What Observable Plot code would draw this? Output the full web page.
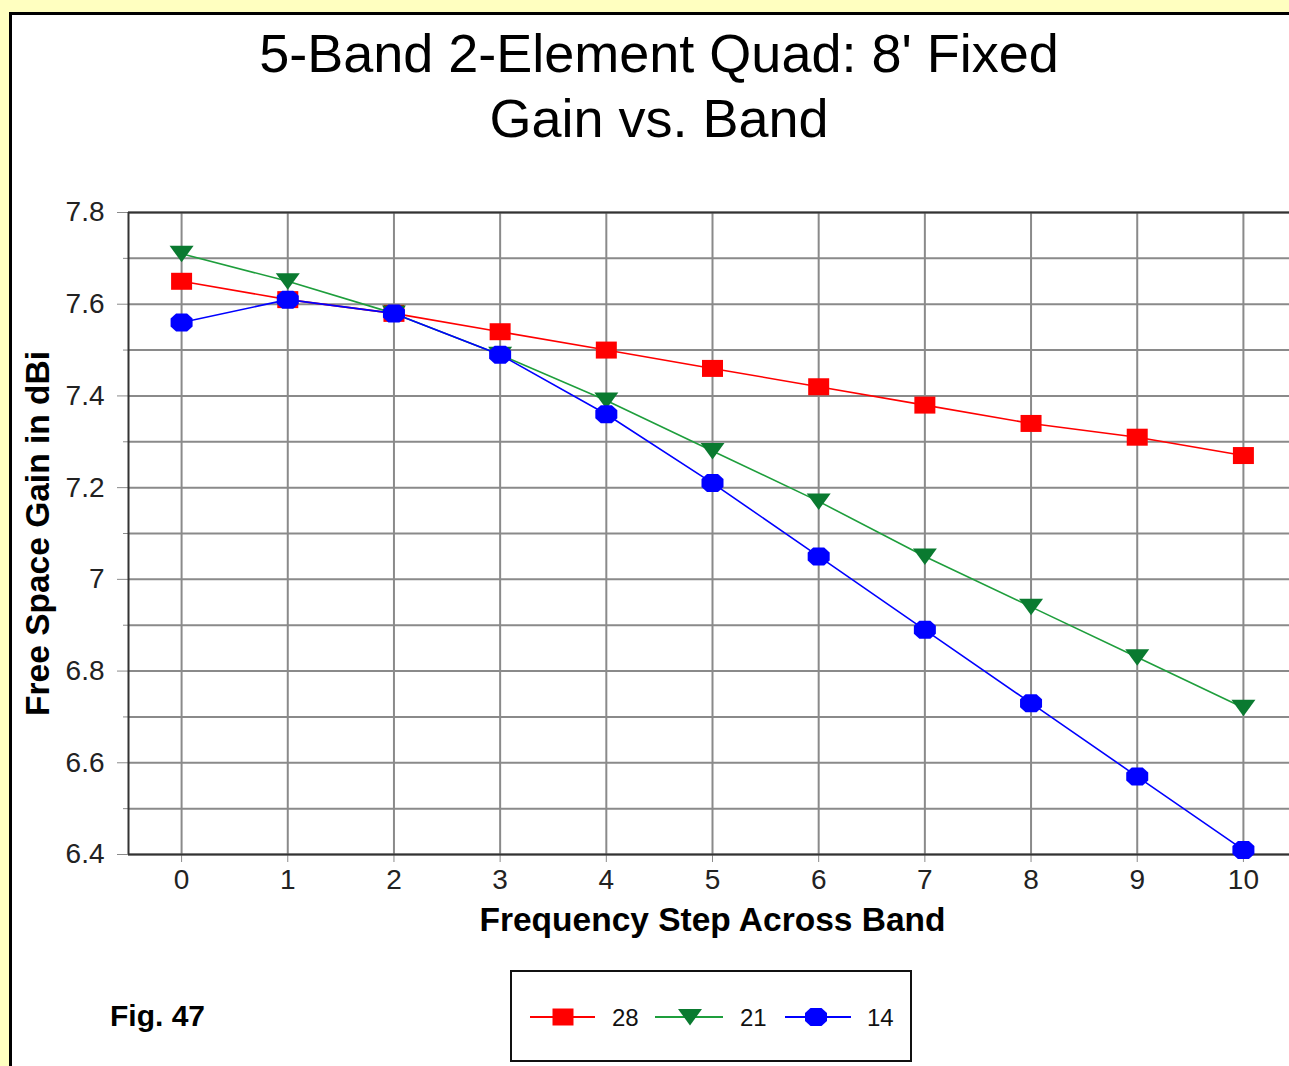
<!DOCTYPE html>
<html>
<head>
<meta charset="utf-8">
<script src="https://cdn.jsdelivr.net/npm/d3@7"></script>
<script src="https://cdn.jsdelivr.net/npm/@observablehq/plot@0.6"></script>
<style>
html, body { margin: 0; padding: 0; width: 1289px; height: 1066px; overflow: hidden; background: #FFFFC0; font-family: "Liberation Sans", Arial, sans-serif; }
#frame { position: absolute; left: 9px; top: 12px; width: 1300px; height: 1070px; background: #fff; border-left: 3px solid #000; border-top: 3px solid #000; }
#title { position: absolute; left: 0; top: 21px; width: 1318px; text-align: center; font-size: 54px; line-height: 65px; color: #000; }
#chart { position: absolute; left: 0; top: 0; width: 1289px; height: 1066px; overflow: hidden; }
#chart svg { max-width: none !important; }
#fig { position: absolute; left: 110px; top: 1001px; font-size: 30px; line-height: 30px; font-weight: bold; color: #000; }
#legend { position: absolute; left: 510px; top: 970px; width: 398px; height: 88px; border: 2px solid #111; background: #fff; }
</style>
</head>
<body>
<div id="frame"></div>
<div id="title">5-Band 2-Element Quad: 8' Fixed<br>Gain vs. Band</div>
<div id="chart"></div>
<div id="fig">Fig. 47</div>
<div id="legend"></div>
<script>
// ---- data ----
const steps = [0, 1, 2, 3, 4, 5, 6, 7, 8, 9, 10];
const gain28 = [7.65, 7.61, 7.58, 7.54, 7.50, 7.46, 7.42, 7.38, 7.34, 7.31, 7.27];
const gain21 = [7.71, 7.65, 7.58, 7.49, 7.39, 7.28, 7.17, 7.05, 6.94, 6.83, 6.72];
const gain14 = [7.56, 7.61, 7.58, 7.49, 7.36, 7.21, 7.05, 6.89, 6.73, 6.57, 6.41];
const seriesNames = ["28", "21", "14"];
const yLabelTicks = [6.4, 6.6, 6.8, 7.0, 7.2, 7.4, 7.6, 7.8];
const yMinorTicks = [6.5, 6.7, 6.9, 7.1, 7.3, 7.5, 7.7];
const xTicks = [0, 1, 2, 3, 4, 5, 6, 7, 8, 9, 10];
const xLabel = "Frequency Step Across Band";
const yLabel = "Free Space Gain in dBi";

// ---- styles ----
const lineColors = {"28": "#FF0000", "21": "#1E9E3C", "14": "#0000FF"};
const markColors = {"28": "#FF0000", "21": "#0A7A30", "14": "#0000FF"};

// custom symbols (r = 10 -> size = PI*100)
const rOf = size => Math.sqrt(size / Math.PI);
const symSquare = {draw(ctx, size) { const r = rOf(size); const w = r * 1.05, h = r * 0.85; ctx.rect(-w, -h, 2 * w, 2 * h); }};
const symTriDown = {draw(ctx, size) { const r = rOf(size); ctx.moveTo(-1.2 * r, -0.8 * r); ctx.lineTo(1.2 * r, -0.8 * r); ctx.lineTo(0, 0.85 * r); ctx.closePath(); }};
const symOct = {draw(ctx, size) { const r = rOf(size); const a = 1.1 * r, b = 0.55 * r, c = 0.9 * r, d = 0.4 * r;
  ctx.moveTo(-b, -c); ctx.lineTo(b, -c); ctx.lineTo(a, -d); ctx.lineTo(a, d); ctx.lineTo(b, c); ctx.lineTo(-b, c); ctx.lineTo(-a, d); ctx.lineTo(-a, -d); ctx.closePath(); }};
const symbols = {"28": symSquare, "21": symTriDown, "14": symOct};

const seriesValues = {"28": gain28, "21": gain21, "14": gain14};
const rows = seriesNames.flatMap(s => steps.map((x, i) => ({series: s, step: x, gain: seriesValues[s][i]})));
const yGrid = [...yLabelTicks, ...yMinorTicks];

const marks = [
  Plot.gridX(xTicks, {stroke: "#8a8a8a", strokeOpacity: 1, strokeWidth: 2}),
  Plot.gridY(yGrid, {stroke: "#8a8a8a", strokeOpacity: 1, strokeWidth: 2}),
  Plot.axisY(yLabelTicks, {tickSize: 11, tickPadding: 13, stroke: "#8a8a8a", fill: "#222", fontSize: 28, tickFormat: d => String(d), label: null}),
  Plot.axisY(yMinorTicks, {tickSize: 5, stroke: "#8a8a8a", tickFormat: () => "", label: null}),
  Plot.axisX(xTicks, {tickSize: 8, tickPadding: 7, stroke: "#8a8a8a", fill: "#222", fontSize: 28, tickFormat: d => String(d), label: null}),
  Plot.ruleY([7.8], {stroke: "#333", strokeWidth: 2}),
  Plot.ruleY([6.4], {stroke: "#333", strokeWidth: 2}),
  Plot.ruleX([-0.5], {stroke: "#333", strokeWidth: 2}),
];
for (const s of seriesNames) {
  const data = rows.filter(d => d.series === s);
  marks.push(Plot.line(data, {x: "step", y: "gain", stroke: lineColors[s], strokeWidth: 1.6}));
  marks.push(Plot.dot(data, {x: "step", y: "gain", r: 10, symbol: () => symbols[s], fill: markColors[s], stroke: "none"}));
}
marks.push(Plot.text([yLabel], {frameAnchor: "left", dx: -90, rotate: -90, textAnchor: "middle", lineAnchor: "middle", fontSize: 33.5, fontWeight: "bold", fill: "#000"}));
marks.push(Plot.text([xLabel], {frameAnchor: "bottom", dy: 66, textAnchor: "middle", lineAnchor: "middle", fontSize: 33.5, fontWeight: "bold", fill: "#000"}));

const chart = Plot.plot({
  width: 1296,
  height: 960,
  marginLeft: 128,
  marginRight: 0,
  marginTop: 212,
  marginBottom: 106,
  style: {background: "transparent", fontFamily: "'Liberation Sans', Arial, sans-serif", overflow: "visible", maxWidth: "none"},
  x: {domain: [-0.5, 10.5]},
  y: {domain: [6.4, 7.8]},
  symbol: {type: "identity"},
  marks
});
document.getElementById("chart").appendChild(chart);

// ---- legend ----
const legendItems = [
  {name: "28", x0: 18, x1: 83, cx: 51, tx: 100},
  {name: "21", x0: 143, x1: 211, cx: 178, tx: 228},
  {name: "14", x0: 273, x1: 339, cx: 304, tx: 355}
];
const lsvg = d3.select("#legend").append("svg").attr("width", 398).attr("height", 88).style("display", "block");
for (const it of legendItems) {
  lsvg.append("line").attr("x1", it.x0).attr("x2", it.x1).attr("y1", 45).attr("y2", 45).attr("stroke", lineColors[it.name]).attr("stroke-width", 2);
  lsvg.append("path").attr("transform", `translate(${it.cx},45)`).attr("d", d3.symbol(symbols[it.name], Math.PI * 100)()).attr("fill", markColors[it.name]);
  lsvg.append("text").attr("x", it.tx).attr("y", 54).attr("font-size", 24).attr("fill", "#111").attr("font-family", "'Liberation Sans', Arial, sans-serif").text(it.name);
}
</script>
</body>
</html>
